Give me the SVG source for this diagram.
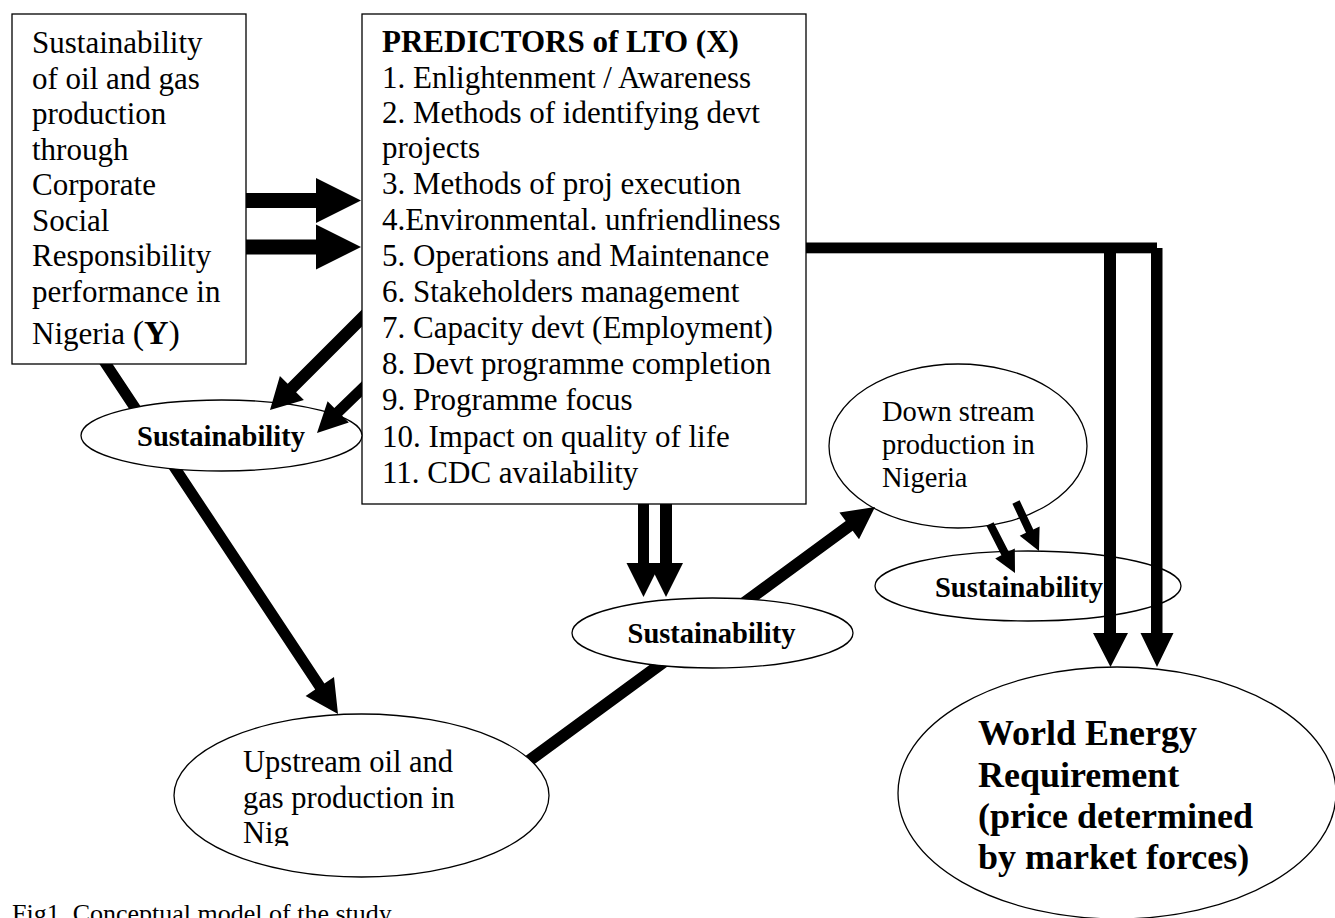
<svg xmlns="http://www.w3.org/2000/svg" width="1335" height="918" viewBox="0 0 1335 918">
<style>
.box{fill:#fff;stroke:#000;stroke-width:1.3}
.t{font-family:"Liberation Serif","Times New Roman",serif;fill:#000}
.r31{font-size:31px}
.b31{font-size:31px;font-weight:bold}
.sus{font-size:28.5px;font-weight:bold}
.ar{fill:#000;stroke:none}
</style>
<defs>
<clipPath id="clipLeftDiag"><path clip-rule="evenodd" d="M0 0H1335V918H0Z M12 14H246V364H12Z M81 435.5A140.5 35.5 0 1 0 362 435.5A140.5 35.5 0 1 0 81 435.5Z"/></clipPath>
<clipPath id="clipMidDiag"><path clip-rule="evenodd" d="M0 0H1335V918H0Z M572 633A140.5 35 0 1 0 853 633A140.5 35 0 1 0 572 633Z M174 795.5A187.5 81.5 0 1 0 549 795.5A187.5 81.5 0 1 0 174 795.5Z"/></clipPath>
<clipPath id="clipLeftOfBox"><rect x="0" y="0" width="362" height="918"/></clipPath>
<clipPath id="clipUpText"><rect x="0" y="0" width="1335" height="846"/></clipPath>
</defs>
<rect width="1335" height="918" fill="#fff"/>

<g id="node-y">
<rect class="box" x="12" y="14" width="234" height="350"/>
<text class="t r31" x="32" y="53">Sustainability</text>
<text class="t r31" x="32" y="88.5">of oil and gas</text>
<text class="t r31" x="32" y="124">production</text>
<text class="t r31" x="32" y="159.5">through</text>
<text class="t r31" x="32" y="195">Corporate</text>
<text class="t r31" x="32" y="230.5">Social</text>
<text class="t r31" x="32" y="266">Responsibility</text>
<text class="t r31" x="32" y="301.5">performance in</text>
<text class="t r31" x="32" y="344">Nigeria <tspan font-size="34">(</tspan><tspan font-size="34" font-weight="bold">Y</tspan><tspan font-size="34">)</tspan></text>
</g>

<g id="node-predictors">
<rect class="box" x="362" y="14" width="444" height="490"/>
<text class="t b31" x="382" y="52">PREDICTORS of LTO (X)</text>
<text class="t r31" x="382" y="88">1. Enlightenment / Awareness</text>
<text class="t r31" x="382" y="123">2. Methods of identifying devt</text>
<text class="t r31" x="382" y="158">projects</text>
<text class="t r31" x="382" y="194">3. Methods of proj execution</text>
<text class="t r31" x="382" y="230">4.Environmental. unfriendliness</text>
<text class="t r31" x="382" y="266">5. Operations and Maintenance</text>
<text class="t r31" x="382" y="302">6. Stakeholders management</text>
<text class="t r31" x="382" y="338">7. Capacity devt (Employment)</text>
<text class="t r31" x="382" y="374">8. Devt programme completion</text>
<text class="t r31" x="382" y="410">9. Programme focus</text>
<text class="t r31" x="382" y="447">10. Impact on quality of life</text>
<text class="t r31" x="382" y="483">11. CDC availability</text>
</g>

<g id="node-sus-left">
<ellipse class="box" cx="221.5" cy="435.5" rx="140.5" ry="35.5"/>
<text class="t sus" x="221" y="446" text-anchor="middle">Sustainability</text>
</g>

<g id="node-sus-mid">
<ellipse class="box" cx="712.5" cy="633" rx="140.5" ry="35"/>
<text class="t sus" x="711.5" y="643" text-anchor="middle">Sustainability</text>
</g>

<g id="node-downstream">
<ellipse class="box" cx="958" cy="446" rx="129" ry="82"/>
<text class="t" font-size="28.5" x="882" y="421">Down stream</text>
<text class="t" font-size="28.5" x="882" y="454">production in</text>
<text class="t" font-size="28.5" x="882" y="487">Nigeria</text>
</g>

<g id="node-sus-right">
<ellipse class="box" cx="1028" cy="586" rx="153" ry="35"/>
<text class="t sus" x="935" y="597">Sustainability</text>
</g>

<g id="node-upstream">
<ellipse class="box" cx="361.5" cy="795.5" rx="187.5" ry="81.5"/>
<g clip-path="url(#clipUpText)">
<text class="t" font-size="30.5" x="243" y="772">Upstream oil and</text>
<text class="t" font-size="30.5" x="243" y="808">gas production in</text>
<text class="t" font-size="30.5" x="243" y="843">Nig</text>
</g>
</g>

<g id="node-world">
<ellipse class="box" cx="1117" cy="793" rx="219" ry="126"/>
<text class="t" font-size="36" font-weight="bold" x="978" y="745">World Energy</text>
<text class="t" font-size="36" font-weight="bold" x="978" y="787">Requirement</text>
<text class="t" font-size="36" font-weight="bold" x="978" y="828">(price determined</text>
<text class="t" font-size="36" font-weight="bold" x="978" y="869">by market forces)</text>
</g>

<g id="connectors">
<polygon class="ar" clip-path="url(#clipLeftDiag)" points="95.4,358 315.2,689.5 305.6,695.9 338,714 334,677.1 324.4,683.5 104.6,352"/>
<polygon class="ar" clip-path="url(#clipMidDiag)" points="518.5,775.8 852.7,530.7 859,539.2 875,507 839.4,512.6 845.7,521.1 511.5,766.2"/>
<polygon class="ar" points="246,193 316,193 316,178 361,200.5 316,223 316,208 246,208"/>
<polygon class="ar" points="246,239.5 316,239.5 316,224.5 361,247 316,269.5 316,254.5 246,254.5"/>
<polygon class="ar" clip-path="url(#clipLeftOfBox)" points="361.8,309.8 287.7,383.8 279.9,376.1 270,410 303.9,400.1 296.1,392.3 370.2,318.2"/>
<polygon class="ar" clip-path="url(#clipLeftOfBox)" points="362.1,381.1 334.3,407.9 327.6,401.2 317,433 348.8,422.4 342.1,415.7 369.9,388.9"/>
<polygon class="ar" points="638,504 649,504 649,563 660.5,563 643.5,597 626.5,563 638,563"/>
<polygon class="ar" points="660,504 672,504 672,563 683,563 666,597 649,563 660,563"/>
<rect class="ar" x="806" y="242.5" width="351" height="10.8"/>
<polygon class="ar" points="1104,250 1116,250 1116,633 1128,633 1110.5,667 1093,633 1104,633"/>
<polygon class="ar" points="1151,248 1162.5,248 1162.5,633 1173.5,633 1157,667 1140.5,633 1151,633"/>
<polygon class="ar" points="986.4,525.8 1001.4,555.2 995.2,558.4 1015,573 1014.8,548.4 1008.6,551.6 993.6,522.2"/>
<polygon class="ar" points="1012.4,503.7 1026,532.8 1019.7,535.8 1039,551 1039.6,526.4 1033.3,529.4 1019.6,500.3"/>
</g>

<text class="t" font-size="26" x="12" y="922">Fig1. Conceptual model of the study</text>
</svg>
